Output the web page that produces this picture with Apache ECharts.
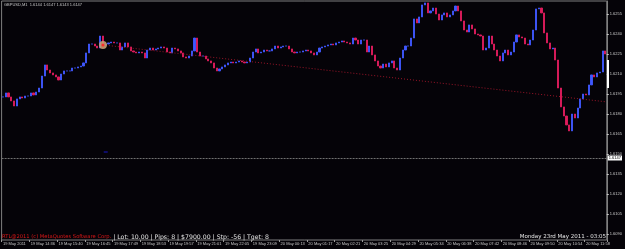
<!DOCTYPE html>
<html>
<head>
<meta charset="utf-8">
<script src="https://cdn.jsdelivr.net/npm/echarts@6/dist/echarts.min.js"></script>
<style>
  html, body { margin: 0; padding: 0; background: #050308; }
  #main { width: 625px; height: 249px; }
</style>
</head>
<body>
<div id="main"></div>
<script>
// time axis labels, one every 10 bars
var tickLabels = ['19 May 2011', '19 May 14:36', '19 May 15:40', '19 May 16:45', '19 May 17:49', '19 May 18:53',
    '19 May 19:57', '19 May 21:01', '19 May 22:05', '19 May 23:09', '20 May 00:13', '20 May 01:17',
    '20 May 02:21', '20 May 03:25', '20 May 04:29', '20 May 05:34', '20 May 06:38', '20 May 07:42',
    '20 May 08:46', '20 May 09:50', '20 May 10:54', '20 May 11:58'];
var barsPerLabel = 10;

// price scale labels
var yTicks = [1.6090, 1.6105, 1.6120, 1.6135, 1.6150, 1.6165, 1.6180, 1.6195, 1.6210, 1.6225, 1.6240, 1.6255];

// closing prices
var closes = [
    1.61928, 1.61958, 1.61928, 1.61898, 1.61860, 1.61913, 1.61928, 1.61920, 1.61935, 1.61935,
    1.61958, 1.61943, 1.61965, 1.61995, 1.62085, 1.62168, 1.62130, 1.62108, 1.62093, 1.62078,
    1.62055, 1.62100, 1.62123, 1.62123, 1.62123, 1.62145, 1.62145, 1.62153, 1.62160, 1.62183,
    1.62258, 1.62325, 1.62325, 1.62310, 1.62295, 1.62385, 1.62318, 1.62325, 1.62333, 1.62340,
    1.62333, 1.62333, 1.62280, 1.62303, 1.62333, 1.62303, 1.62273, 1.62265, 1.62258, 1.62265,
    1.62258, 1.62220, 1.62280, 1.62295, 1.62280, 1.62288, 1.62295, 1.62303, 1.62295, 1.62265,
    1.62258, 1.62295, 1.62288, 1.62273, 1.62258, 1.62228, 1.62220, 1.62235, 1.62273, 1.62370,
    1.62265, 1.62235, 1.62235, 1.62213, 1.62198, 1.62183, 1.62145, 1.62123, 1.62138, 1.62153,
    1.62168, 1.62183, 1.62190, 1.62183, 1.62190, 1.62198, 1.62190, 1.62183, 1.62190, 1.62220,
    1.62265, 1.62288, 1.62258, 1.62265, 1.62280, 1.62273, 1.62273, 1.62288, 1.62310, 1.62295,
    1.62303, 1.62310, 1.62310, 1.62288, 1.62265, 1.62258, 1.62265, 1.62265, 1.62273, 1.62280,
    1.62273, 1.62258, 1.62243, 1.62265, 1.62295, 1.62303, 1.62310, 1.62318, 1.62325, 1.62318,
    1.62333, 1.62340, 1.62348, 1.62340, 1.62333, 1.62325, 1.62370, 1.62355, 1.62325, 1.62355,
    1.62355, 1.62265, 1.62310, 1.62243, 1.62198, 1.62160, 1.62145, 1.62175, 1.62153, 1.62183,
    1.62198, 1.62145, 1.62130, 1.62220, 1.62280, 1.62310, 1.62310, 1.62370, 1.62513, 1.62483,
    1.62528, 1.62618, 1.62633, 1.62558, 1.62573, 1.62595, 1.62550, 1.62505, 1.62543, 1.62558,
    1.62528, 1.62543, 1.62573, 1.62610, 1.62573, 1.62498, 1.62430, 1.62415, 1.62468, 1.62438,
    1.62400, 1.62393, 1.62385, 1.62280, 1.62295, 1.62385, 1.62325, 1.62280, 1.62235, 1.62198,
    1.62258, 1.62280, 1.62243, 1.62265, 1.62340, 1.62393, 1.62378, 1.62370, 1.62325, 1.62318,
    1.62355, 1.62430, 1.62588, 1.62595, 1.62558, 1.62408, 1.62333, 1.62288, 1.62295, 1.62205,
    1.61995, 1.61853, 1.61785, 1.61718, 1.61673, 1.61800, 1.61770, 1.61845, 1.61913, 1.61950,
    1.61943, 1.62018, 1.62093, 1.62078, 1.62108, 1.62115, 1.62273, 1.62250
];

var bidPrice = 1.6147;
var header = 'GBPUSD,M1  1.6144 1.6147 1.6143 1.6147';
var trendStart = [36, 1.62318];
var trendEnd = [217, 1.61892];
var arrowMark = [36, 1.62318];
var blueMark = [37, 1.61515];
var rangeMarker = [1.62205, 1.61995];

var categories = [];
var candles = [];
for (var i = 0; i < closes.length; i++) {
    categories.push(i % barsPerLabel === 0 ? (tickLabels[i / barsPerLabel] || '') : '');
    var o = i === 0 ? closes[0] : closes[i - 1];
    var c = closes[i];
    candles.push([o, c, Math.min(o, c), Math.max(o, c)]);
}

var myChart = echarts.init(document.getElementById('main'));
var option = {
    backgroundColor: '#050308',
    animation: false,
    textStyle: { fontFamily: 'Liberation Sans' },
    grid: {
        left: 1, right: 17, top: 1, bottom: 9,
        show: true, borderColor: '#7f7f7f', borderWidth: 1
    },
    xAxis: {
        type: 'category',
        data: categories,
        boundaryGap: true,
        axisLine: { show: false },
        axisTick: { show: true, interval: barsPerLabel - 1, length: 2, lineStyle: { color: '#9a9a9a' } },
        axisLabel: {
            interval: barsPerLabel - 1, fontSize: 4, color: '#c8c8c8',
            align: 'left', margin: 2
        },
        splitLine: { show: false }
    },
    yAxis: {
        type: 'value',
        position: 'right',
        min: 1.60855,
        max: 1.626475,
        axisLine: { show: true, lineStyle: { color: '#7f7f7f' } },
        axisTick: { show: true, customValues: yTicks, length: 2, lineStyle: { color: '#c8c8c8' } },
        axisLabel: {
            customValues: yTicks, fontSize: 4, color: '#c8c8c8', margin: 3,
            formatter: function (v) { return v.toFixed(4); }
        },
        splitLine: { show: false }
    },
    series: [{
        type: 'candlestick',
        data: candles,
        barWidth: 1.6,
        itemStyle: {
            color: '#4058ff', color0: '#e01c5c',
            borderColor: '#4058ff', borderColor0: '#e01c5c', borderWidth: 0.9
        },
        markLine: {
            silent: true,
            symbol: 'none',
            precision: 5,
            data: [
                {
                    yAxis: bidPrice,
                    lineStyle: { color: '#707070', type: [2, 1], width: 1 },
                    label: {
                        show: true, position: 'end', distance: 1, formatter: bidPrice.toFixed(4),
                        backgroundColor: '#ffffff', color: '#000000', fontSize: 4, padding: [1, 1, 0, 1]
                    }
                },
                [
                    { coord: trendStart, lineStyle: { color: '#9a1428', type: [1, 2], width: 1 }, label: { show: false } },
                    { coord: trendEnd }
                ]
            ]
        },
        markPoint: {
            silent: true,
            label: { show: false },
            data: [
                { coord: arrowMark, symbol: 'circle', symbolSize: 8, itemStyle: { color: '#c89a72', opacity: 0.9 } },
                { coord: arrowMark, symbol: 'circle', symbolSize: 3, itemStyle: { color: '#ff2a2a' } },
                { coord: blueMark, symbol: 'rect', symbolSize: [4, 1], itemStyle: { color: '#1818c8' } }
            ]
        }
    }],
    graphic: [
        {
            id: 'header', type: 'text', left: 4, top: 3,
            style: { text: header, fill: '#c8c8c8', font: '4px Liberation Sans' }
        },
        {
            id: 'status', type: 'text', left: 2, top: 234,
            style: {
                text: '{r|RTL@2011 (c) MetaQuotes Software Corp.}{w| | Lot: 10.00 | Pips: 8 | $7900.00 | Stp: -56 | Tget: 8}',
                rich: {
                    r: { fill: '#e01818', font: '5.2px DejaVu Sans' },
                    w: { fill: '#e6e6e6', font: '6.2px DejaVu Sans' }
                }
            }
        },
        {
            id: 'clock', type: 'text', right: 19, top: 234,
            style: { text: 'Monday 23rd May 2011 - 03:05', fill: '#e6e6e6', font: '5.5px DejaVu Sans' }
        }
    ]
};
myChart.setOption(option);

// white range marker on the price scale edge
var yTop = myChart.convertToPixel({ yAxisIndex: 0 }, rangeMarker[0]);
var yBot = myChart.convertToPixel({ yAxisIndex: 0 }, rangeMarker[1]);
var xEdge = myChart.getWidth() - 17;
myChart.setOption({
    graphic: [{
        id: 'rangeBar',
        type: 'rect',
        shape: { x: xEdge - 1, y: yTop, width: 2, height: yBot - yTop },
        style: { fill: '#ffffff' },
        z: 100
    }]
});
</script>
</body>
</html>
